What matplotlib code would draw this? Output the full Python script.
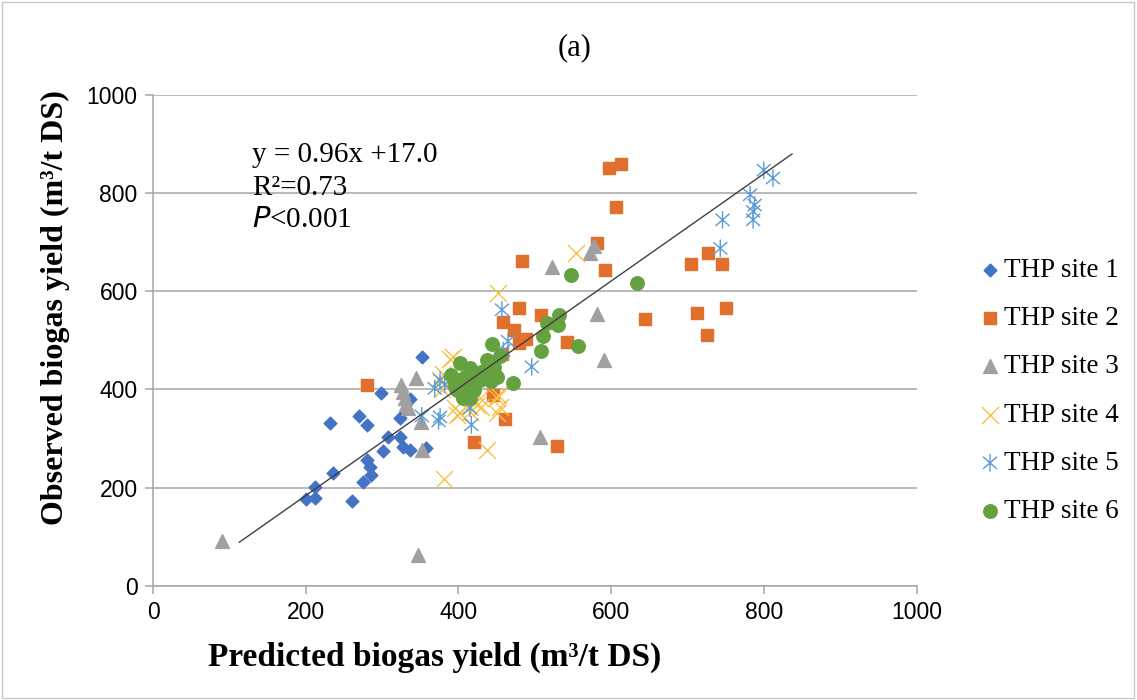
import matplotlib.pyplot as plt
from matplotlib.path import Path
from matplotlib.patches import Rectangle

site1_x = [352, 298, 232, 270, 280, 323, 337, 308, 323, 328, 337, 301, 358, 280, 284, 286, 275, 236, 212, 201, 212, 261]
site1_y = [465, 392, 332, 346, 327, 341, 380, 304, 303, 283, 277, 275, 280, 256, 243, 226, 211, 230, 202, 178, 180, 173]

site2_x = [597, 613, 606, 582, 483, 592, 480, 508, 458, 473, 479, 489, 542, 457, 644, 712, 750, 725, 727, 705, 745, 280, 445, 461, 421, 529]
site2_y = [850, 858, 772, 698, 662, 642, 566, 551, 537, 520, 495, 503, 497, 472, 543, 556, 566, 511, 678, 656, 655, 409, 389, 339, 292, 284]

site3_x = [91, 347, 325, 328, 330, 332, 334, 345, 351, 352, 507, 523, 572, 578, 581, 591]
site3_y = [91, 63, 408, 395, 383, 370, 362, 423, 334, 277, 304, 650, 677, 692, 553, 460]

site4_x = [554, 452, 393, 389, 380, 376, 378, 385, 395, 402, 398, 415, 415, 424, 428, 430, 450, 452, 455, 450, 437, 381, 412]
site4_y = [678, 596, 466, 462, 432, 419, 400, 408, 362, 352, 348, 365, 355, 368, 382, 365, 382, 389, 365, 352, 277, 217, 412]

site5_x = [800, 812, 782, 788, 786, 786, 746, 743, 457, 465, 459, 496, 376, 369, 352, 374, 376, 417, 411, 415, 382]
site5_y = [846, 830, 796, 775, 762, 745, 745, 687, 562, 498, 479, 446, 419, 402, 346, 336, 344, 328, 419, 362, 410]

site6_x = [547, 634, 532, 516, 530, 511, 557, 508, 471, 444, 437, 455, 446, 402, 415, 437, 450, 394, 400, 409, 415, 398,
           411, 420, 406, 415, 428, 430, 440, 420, 405, 395, 425, 447, 390, 443]
site6_y = [633, 617, 551, 536, 531, 508, 488, 478, 414, 492, 460, 467, 446, 453, 443, 429, 426, 419, 419, 426, 433, 399,
           392, 399, 382, 382, 419, 436, 440, 410, 410, 405, 425, 433, 430, 418]

fit_x = [113, 837]
fit_y = [89, 879]

labels = ["THP site 1", "THP site 2", "THP site 3", "THP site 4", "THP site 5", "THP site 6"]

# Excel style asterisk: vertical bar plus an X
asterisk = Path([(0, -1), (0, 1), (-0.8, -0.7), (0.8, 0.7), (-0.8, 0.7), (0.8, -0.7)],
                [Path.MOVETO, Path.LINETO] * 3)

serif = ["Liberation Serif", "DejaVu Serif"]
grey = "#A6A6A6"

fig = plt.figure(figsize=(11.37, 7), dpi=100)
ax = fig.add_axes([153 / 1137, 114 / 700, 763.5 / 1137, 491.5 / 700])

ax.scatter(site1_x, site1_y, marker="D", s=42, color="#4472C4", label=labels[0], zorder=3)
ax.scatter(site2_x, site2_y, marker="s", s=80, color="#E0702C", label=labels[1], zorder=3)
ax.scatter(site3_x, site3_y, marker="^", s=100, color="#A0A0A0", label=labels[2], zorder=3)
ax.scatter(site4_x, site4_y, marker="x", s=150, color="#F7C143", linewidths=1.0, label=labels[3], zorder=3)
ax.scatter(site5_x, site5_y, marker=asterisk, s=160, facecolor="none", edgecolor="#5B9BD5", linewidths=1.0,
           label=labels[4], zorder=3)
ax.scatter(site6_x, site6_y, marker="o", s=95, color="#65A23F", label=labels[5], zorder=3)
ax.plot(fit_x, fit_y, color="#404040", lw=1.0, zorder=4)

ax.set_xlim(0, 1000)
ax.set_ylim(0, 1000)
ax.set_xticks(range(0, 1001, 200))
ax.set_yticks(range(0, 1001, 200))
ax.grid(axis="y", color=grey, lw=1.1)
ax.set_axisbelow(True)
for side in ["top", "right"]:
    ax.spines[side].set_visible(False)
for side in ["left", "bottom"]:
    ax.spines[side].set_color(grey)
    ax.spines[side].set_linewidth(1.1)
ax.tick_params(direction="out", length=6, width=1.1, color=grey, labelsize=16.5, pad=5)
for t in ax.get_xticklabels() + ax.get_yticklabels():
    t.set_family(["Liberation Sans", "DejaVu Sans"])

ax.set_xlabel("Predicted biogas yield (m³/t DS)", family=serif, fontweight="bold", fontsize=24)
ax.set_ylabel("Observed biogas yield (m³/t DS)", family=serif, fontweight="bold", fontsize=23)
ax.xaxis.set_label_coords((435 - 153) / 763.5, -(657 - 586) / 491.5)
ax.yaxis.set_label_coords((55 - 153) / 763.5, (586 - 308) / 491.5)
ax.xaxis.label.set_va("center")
ax.yaxis.label.set_va("center")

fig.text(575 / 1137, 1 - 48 / 700, "(a)", family=serif, fontsize=22, ha="center", va="center")
fig.text(252 / 1137, 1 - 155 / 700, "y = 0.96x +17.0", family=serif, fontsize=21, va="center")
fig.text(252 / 1137, 1 - 188 / 700, "R²=0.73", family=serif, fontsize=21, va="center")
fig.text(252 / 1137, 1 - 220 / 700, "$\\it{P}$<0.001", family=serif, fontsize=21, va="center")

ax.legend(loc="center left", bbox_to_anchor=(967 / 1137, 1 - 391 / 700), bbox_transform=fig.transFigure,
          frameon=False, prop={"family": serif, "size": 19.5}, handletextpad=0.05, handlelength=0.9,
          labelspacing=0.86, borderaxespad=0)

fig.patches.append(Rectangle((0.002, 0.003), 0.995, 0.994, transform=fig.transFigure, fill=False,
                             ec="#C8C8C8", lw=1))

fig.savefig("out.png", dpi=100)
